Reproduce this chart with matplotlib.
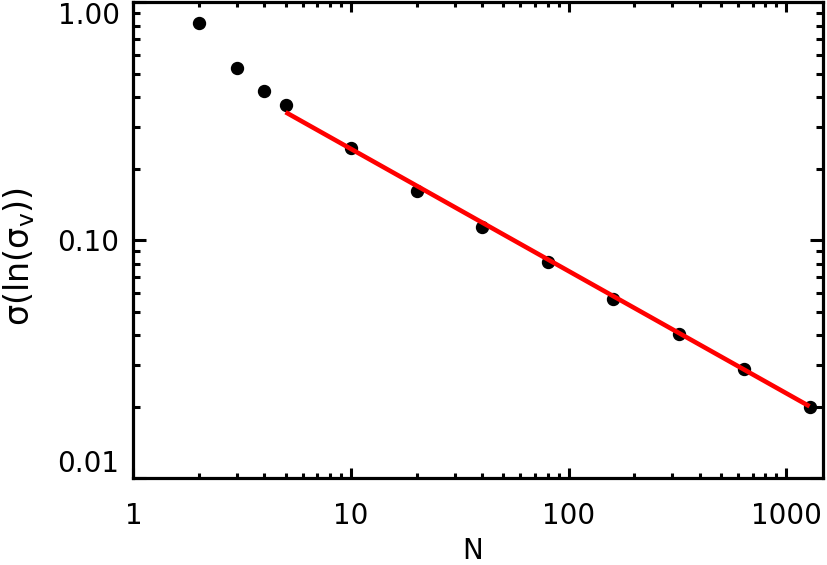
import numpy as np
import matplotlib
matplotlib.use('Agg')
import matplotlib.pyplot as plt
from matplotlib.ticker import NullFormatter

# data
n_vals = [2, 3, 4, 5, 10, 20, 40, 80, 160, 320, 640, 1280]
sigma_vals = [0.822, 0.532, 0.424, 0.370, 0.245, 0.162, 0.114, 0.081,
              0.0566, 0.0404, 0.0288, 0.0200]
fit_n = [5, 1280]
fit_sigma = [0.346, 0.0201]

x_ticks = [1, 10, 100, 1000]
x_labels = ['1', '10', '100', '1000']
y_ticks = [0.01, 0.1, 1.0]
y_labels = ['0.01', '0.10', '1.00']

plt.rcParams['font.family'] = 'DejaVu Sans'
plt.rcParams['font.size'] = 20
plt.rcParams['mathtext.default'] = 'regular'

fig = plt.figure(figsize=(8.27, 5.65), dpi=100)
ax = fig.add_axes([0.1614, 0.1531, 0.8337, 0.8425])

# points, then the fitted line on top
ax.plot(n_vals, sigma_vals, 'o', color='black', ms=8.6, zorder=2)
ax.plot(fit_n, fit_sigma, color='red', lw=3.3, solid_capstyle='butt', zorder=3)

ax.set_xscale('log')
ax.set_yscale('log')
ax.set_xlim(1, 1475)
ax.set_ylim(0.01, 1.0)

ax.set_xticks(x_ticks, labels=x_labels)
ax.set_yticks(y_ticks, labels=y_labels)
ax.xaxis.set_minor_formatter(NullFormatter())
ax.yaxis.set_minor_formatter(NullFormatter())

for s in ax.spines.values():
    s.set_linewidth(2.3)

ax.tick_params(which='both', direction='in', top=True, right=True, width=2.2)
ax.tick_params(axis='x', which='major', length=7.2, pad=17)
ax.tick_params(axis='x', which='minor', length=3.6)
ax.tick_params(axis='y', which='major', length=9.6, pad=10)
ax.tick_params(axis='y', which='minor', length=5.3)

# edge labels pulled inward like the original
ylabs = ax.get_yticklabels()
ylabs[0].set_va('bottom')
ylabs[-1].set_va('top')

fig.text(473 / 827, 1 - 551 / 565, 'N', ha='center', va='center')
fig.text(19 / 827, 1 - 256 / 565, '\u03c3(ln(\u03c3$_{v}$))',
         rotation=90, ha='center', va='center', fontsize=24)

fig.savefig('out.png', dpi=100)
